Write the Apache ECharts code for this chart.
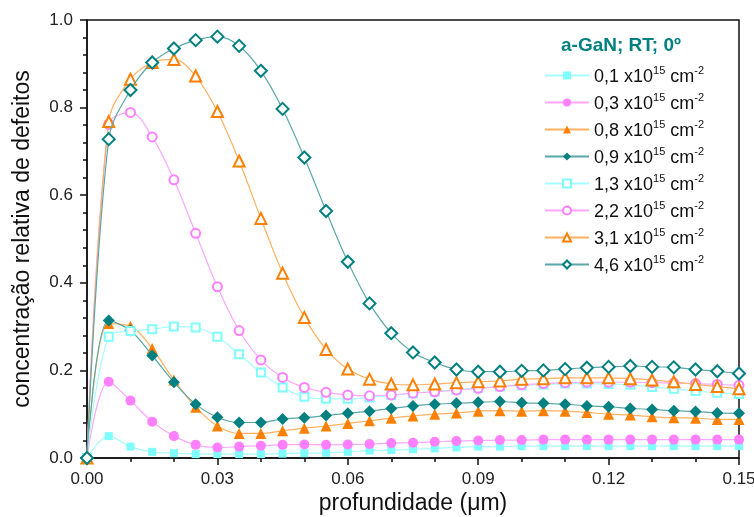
<!DOCTYPE html>
<html>
<head>
<meta charset="utf-8">
<script src="https://cdn.jsdelivr.net/npm/echarts@6/dist/echarts.min.js"></script>
<style>
  html, body { margin: 0; padding: 0; background: #fff; }
  #chart { width: 754px; height: 517px; }
</style>
</head>
<body>
<div id="chart"></div>
<script>
// Depth samples (µm), every 0.005 from 0 to 0.15
const depth = [0, 0.005, 0.01, 0.015, 0.02, 0.025, 0.03, 0.035, 0.04, 0.045, 0.05,
  0.055, 0.06, 0.065, 0.07, 0.075, 0.08, 0.085, 0.09, 0.095, 0.1,
  0.105, 0.11, 0.115, 0.12, 0.125, 0.13, 0.135, 0.14, 0.145, 0.15];

// Fluence labels (x10^15 cm^-2)
const fluences = ['0,1', '0,3', '0,8', '0,9', '1,3', '2,2', '3,1', '4,6'];

// Relative defect concentration for each fluence
const d01 = [0, 0.050, 0.026, 0.014, 0.011, 0.009, 0.009, 0.009, 0.009, 0.010, 0.011,
  0.012, 0.014, 0.017, 0.018, 0.020, 0.022, 0.024, 0.026, 0.026, 0.027,
  0.027, 0.027, 0.027, 0.027, 0.027, 0.027, 0.027, 0.027, 0.027, 0.027];
const d03 = [0, 0.174, 0.131, 0.083, 0.050, 0.030, 0.024, 0.026, 0.028, 0.030, 0.031,
  0.030, 0.031, 0.032, 0.034, 0.035, 0.037, 0.039, 0.040, 0.041, 0.041,
  0.042, 0.042, 0.042, 0.042, 0.042, 0.042, 0.042, 0.042, 0.042, 0.042];
const d08 = [0, 0.307, 0.301, 0.250, 0.178, 0.116, 0.073, 0.056, 0.056, 0.062, 0.068,
  0.073, 0.079, 0.085, 0.091, 0.096, 0.100, 0.103, 0.107, 0.108, 0.107,
  0.108, 0.107, 0.104, 0.100, 0.098, 0.094, 0.092, 0.091, 0.088, 0.088];
const d09 = [0, 0.314, 0.291, 0.234, 0.173, 0.123, 0.093, 0.081, 0.081, 0.089, 0.092,
  0.097, 0.102, 0.107, 0.113, 0.119, 0.123, 0.125, 0.127, 0.129, 0.126,
  0.125, 0.123, 0.119, 0.117, 0.113, 0.111, 0.108, 0.106, 0.103, 0.102];
const d13 = [0, 0.277, 0.290, 0.294, 0.300, 0.298, 0.277, 0.237, 0.195, 0.161, 0.140,
  0.135, 0.135, 0.138, 0.143, 0.148, 0.152, 0.156, 0.160, 0.163, 0.166,
  0.168, 0.170, 0.170, 0.169, 0.167, 0.162, 0.158, 0.153, 0.149, 0.146];
const d22 = [0, 0.762, 0.789, 0.733, 0.635, 0.513, 0.391, 0.291, 0.224, 0.184, 0.161,
  0.150, 0.144, 0.142, 0.144, 0.148, 0.151, 0.155, 0.159, 0.163, 0.167,
  0.170, 0.172, 0.173, 0.173, 0.173, 0.172, 0.171, 0.170, 0.168, 0.166];
const d31 = [0, 0.768, 0.865, 0.903, 0.910, 0.872, 0.791, 0.678, 0.547, 0.422, 0.321,
  0.248, 0.203, 0.180, 0.169, 0.167, 0.169, 0.172, 0.174, 0.176, 0.180,
  0.181, 0.183, 0.183, 0.183, 0.181, 0.178, 0.174, 0.168, 0.163, 0.158];
const d46 = [0, 0.728, 0.840, 0.903, 0.935, 0.954, 0.962, 0.941, 0.884, 0.797, 0.686,
  0.564, 0.448, 0.353, 0.285, 0.241, 0.218, 0.202, 0.197, 0.197, 0.199,
  0.200, 0.203, 0.206, 0.208, 0.210, 0.208, 0.207, 0.202, 0.198, 0.193];

const xTicks = ['0.00', '0.03', '0.06', '0.09', '0.12', '0.15'];
const yTicks = ['0.0', '0.2', '0.4', '0.6', '0.8', '1.0'];

const seriesValues = [d01, d03, d08, d09, d13, d22, d31, d46];

// Marker and colour styling per series
const styles = [
  { symbol: 'rect',          size: 8,  color: '#7ffcfc', line: '#a6fdfd' },
  { symbol: 'circle',        size: 10, color: '#ff80ff', line: '#ffa6ff' },
  { symbol: 'triangle',      size: 11, color: '#ff8000', line: '#ffb060' },
  { symbol: 'diamond',       size: 12, color: '#008080', line: '#5aa8a8' },
  { symbol: 'emptyRect',     size: 8,  color: '#7ffcfc', line: '#a6fdfd' },
  { symbol: 'emptyCircle',   size: 9,  color: '#ff80ff', line: '#ffa6ff' },
  { symbol: 'emptyTriangle', size: 11, color: '#ff8000', line: '#ffb060' },
  { symbol: 'emptyDiamond',  size: 12, color: '#008080', line: '#5aa8a8' }
];

const FONT = '"Liberation Sans", Arial, sans-serif';

const series = seriesValues.map((vals, i) => ({
  name: fluences[i],
  type: 'line',
  data: depth.map((x, k) => [x, vals[k]]),
  smooth: 0.35,
  symbol: styles[i].symbol,
  symbolSize: styles[i].size,
  showAllSymbol: true,
  lineStyle: { color: styles[i].line, width: 1.2 },
  itemStyle: { color: styles[i].color, borderColor: styles[i].color,
               borderWidth: styles[i].symbol.startsWith('empty') ? 2 : 0 },
  emphasis: { disabled: true },
  z: 2 + i
}));

const chart = echarts.init(document.getElementById('chart'), null, { renderer: 'canvas' });

chart.setOption({
  animation: false,
  backgroundColor: '#ffffff',
  grid: {
    left: 87, right: 15, top: 20, bottom: 59,
    containLabel: false,
    outerBoundsMode: 'none',
    show: true, borderColor: '#111', borderWidth: 1.5, backgroundColor: 'transparent'
  },
  title: {
    text: 'a-GaN; RT; 0º',
    left: 556, top: 31,
    textStyle: { color: '#008080', fontFamily: FONT, fontSize: 19, fontWeight: 'bold' }
  },
  legend: {
    orient: 'vertical',
    left: 539, top: 60,
    itemWidth: 44, itemHeight: 10, itemGap: 6,
    data: fluences,
    formatter: name => '{a|' + name + ' x10}{s|15}{a| cm}{s|-2}',
    textStyle: {
      fontFamily: FONT,
      padding: [0, 0, 0, 0],
      rich: {
        a: { fontSize: 18, color: '#111', fontFamily: FONT, lineHeight: 21, verticalAlign: 'bottom' },
        s: { fontSize: 11, color: '#111', fontFamily: FONT, lineHeight: 10, verticalAlign: 'top' }
      }
    }
  },
  xAxis: {
    type: 'value',
    min: 0, max: 0.15, interval: 0.03,
    name: 'profundidade (μm)',
    nameLocation: 'middle', nameGap: 34,
    nameMoveOverlap: false,
    nameTextStyle: { fontFamily: FONT, fontSize: 23, color: '#111' },
    axisLine: { show: true, lineStyle: { color: '#111', width: 1.5 } },
    axisTick: { show: true, inside: false, length: 7, lineStyle: { color: '#111', width: 1.5 } },
    minorTick: { show: true, splitNumber: 3, length: 4, lineStyle: { color: '#111', width: 1.5 } },
    splitLine: { show: false },
    axisLabel: {
      fontFamily: FONT, fontSize: 17, color: '#222', margin: 13,
      formatter: v => xTicks[Math.round(v / 0.03)]
    }
  },
  yAxis: {
    type: 'value',
    min: 0, max: 1.0, interval: 0.2,
    name: 'concentração relativa de defeitos',
    nameLocation: 'middle', nameGap: 53,
    nameMoveOverlap: false,
    nameTextStyle: { fontFamily: FONT, fontSize: 23, color: '#111' },
    axisLine: { show: true, lineStyle: { color: '#111', width: 1.5 } },
    axisTick: { show: true, inside: false, length: 7, lineStyle: { color: '#111', width: 1.5 } },
    minorTick: { show: true, splitNumber: 5, length: 4, lineStyle: { color: '#111', width: 1.5 } },
    splitLine: { show: false },
    axisLabel: {
      fontFamily: FONT, fontSize: 17, color: '#222', margin: 14,
      formatter: v => yTicks[Math.round(v / 0.2)]
    }
  },
  series: series
});
</script>
</body>
</html>
